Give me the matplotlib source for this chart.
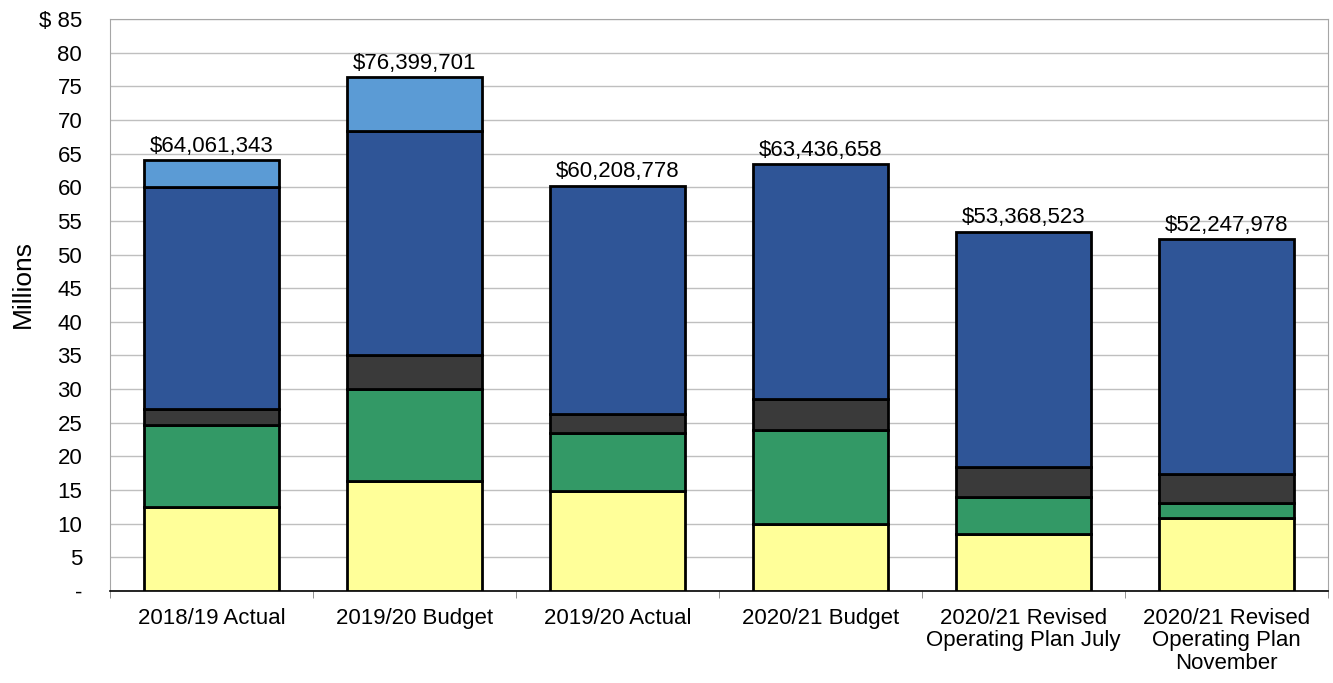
import matplotlib.pyplot as plt
import numpy as np

plt.rcParams["font.family"] = ["Liberation Sans", "DejaVu Sans"]

categories = [
    "2018/19 Actual",
    "2019/20 Budget",
    "2019/20 Actual",
    "2020/21 Budget",
    "2020/21 Revised\nOperating Plan July",
    "2020/21 Revised\nOperating Plan\nNovember",
]
totals = [64061343, 76399701, 60208778, 63436658, 53368523, 52247978]

# stacked segments in millions, bottom to top
yellow = [12.55, 16.36, 14.85, 10.00, 8.42, 10.80]
green = [12.17, 13.60, 8.65, 13.96, 5.60, 2.33]
dark = [2.28, 5.04, 2.80, 4.60, 4.41, 4.21]
light_blue = [4.03, 8.00, 0, 0, 0, 0]

tot_m = np.array(totals) / 1e6
navy = tot_m - np.array(yellow) - np.array(green) - np.array(dark) - np.array(light_blue)

layers = [
    (yellow, "#FFFF99"),
    (green, "#339966"),
    (dark, "#3A3A3A"),
    (navy, "#2F5597"),
    (light_blue, "#5B9BD5"),
]

fig = plt.figure(figsize=(13.33, 6.83), dpi=100)
ax = fig.add_axes([110 / 1333, 1 - 591 / 683, 1218 / 1333, 572 / 683])

x = np.arange(len(categories))
bottom = np.zeros(len(categories))
for vals, col in layers:
    vals = np.array(vals, dtype=float)
    mask = vals > 0
    ax.bar(x[mask], vals[mask], bottom=bottom[mask], width=0.665,
           color=col, edgecolor="black", linewidth=2, zorder=3)
    bottom += vals

for xi, t in zip(x, totals):
    ax.text(xi, t / 1e6 + 0.5, "${:,}".format(t), ha="center", va="bottom",
            fontsize=16)

ax.set_xlim(-0.5, len(categories) - 0.5)
ax.set_ylim(0, 85)
yt = np.arange(0, 90, 5)
ax.set_yticks(yt)
ylabels = ["-" if v == 0 else ("$ %d" % v if v == 85 else str(v)) for v in yt]
ax.set_yticklabels(ylabels, fontsize=16)
ax.tick_params(axis="y", length=0, pad=20)
ax.yaxis.grid(True, color="#BFBFBF", linewidth=1, zorder=0)

ax.set_xticks(x)
ax.set_xticklabels(categories, fontsize=16, linespacing=1.1)
ax.tick_params(axis="x", length=0, pad=12)
ax.set_xticks(np.arange(-0.5, len(categories), 1), minor=True)
ax.tick_params(axis="x", which="minor", length=5, color="#808080")

ax.set_ylabel("Millions", fontsize=19)
ax.yaxis.set_label_coords(-0.062, 0.537)

for s in ["left", "right", "top"]:
    ax.spines[s].set_color("#A6A6A6")
ax.spines["bottom"].set_color("black")
ax.spines["bottom"].set_linewidth(1.2)
ax.set_axisbelow(True)

fig.savefig("out.png", dpi=100)
